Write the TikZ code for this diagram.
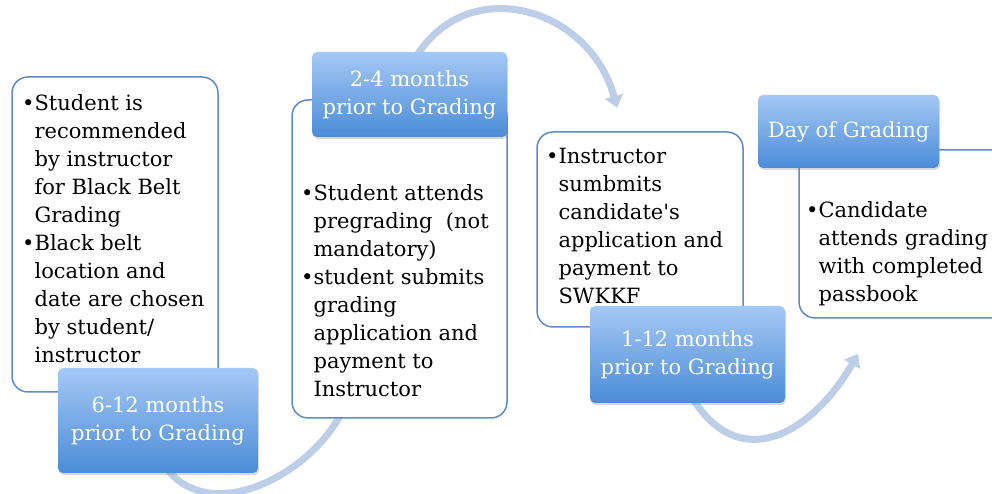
\documentclass[tikz,border=0pt]{standalone}
\usepackage{fontspec}
\setmainfont{DejaVu Serif}
\usetikzlibrary{arrows.meta,shadows}

\definecolor{boxline}{RGB}{95,140,200}
\definecolor{labtop}{RGB}{165,200,245}
\definecolor{labbot}{RGB}{75,140,215}
\definecolor{arcblue}{RGB}{188,206,232}

\newcommand{\bul}{\strut\textbullet}
\newcommand{\ind}{\hphantom{\textbullet}}

\begin{document}
\begin{tikzpicture}[x=1pt,y=1pt,
  stage/.style={draw=boxline, line width=1.5pt, fill=white, rounded corners=16pt},
  period/.style={rounded corners=5pt, top color=labtop, bottom color=labbot, text=white,
    align=center, font=\fontsize{21}{28}\selectfont,
    drop shadow={opacity=0.3, shadow xshift=1pt, shadow yshift=-2pt}},
  notes/.style={align=left, inner sep=0pt, anchor=north west, font=\fontsize{21}{28}\selectfont},
  flow/.style={arcblue, line width=7pt, -{Triangle[length=12pt,width=18pt]}}]
  \useasboundingbox (0,0) rectangle (992,494);
  \clip (0,0) rectangle (992,494);

  % arc ends
  \coordinate (a1s) at (160,35);
  \coordinate (a1e) at (348,95);
  \coordinate (a2s) at (412,430);
  \coordinate (a2e) at (617,386);
  \coordinate (a3s) at (690,100);
  \coordinate (a3e) at (858,140);

  \draw [flow] (a1s) to[out=-60, in=-115, looseness=1.1] (a1e);
  \draw [flow] (a2s) to[out=62, in=105, looseness=1.3] (a2e);
  \draw [flow] (a3s) to[out=-60, in=-120, looseness=1.4] (a3e);

  % white boxes
  \node (box1) [stage, minimum width=206pt, minimum height=315pt] at (115,259.5) {};
  \node (box2) [stage, minimum width=215pt, minimum height=318pt] at (399.5,235) {};
  \node (box3) [stage, minimum width=206pt, minimum height=195pt] at (640,264.5) {};
  \node (box4) [stage, minimum width=210pt, minimum height=168pt] at (904,260) {};

  \node (txt1) [notes] at (22,403.6) {\bul Student is\\ \ind recommended\\ \ind by instructor\\ \ind for Black Belt\\ \ind Grading\\
    \bul Black belt\\ \ind location and\\ \ind date are chosen\\ \ind by student/\\ \ind instructor};
  \node (txt2) [notes] at (301,313.6) {\bul Student attends\\ \ind pregrading\ \ (not\\ \ind mandatory)\\
    \bul student submits\\ \ind grading\\ \ind application and\\ \ind payment to\\ \ind Instructor};
  \node (txt3) [notes] at (546,350.6) {\bul Instructor\\ \ind sumbmits\\ \ind candidate\textquotesingle s\\ \ind application and\\ \ind payment to\\ \ind SWKKF};
  \node (txt4) [notes] at (806,296.6) {\bul Candidate\\ \ind attends grading\\ \ind with completed\\ \ind passbook};

  % time labels
  \node (lab1) [period, minimum width=200pt, minimum height=105pt] at (158,73.5) {6-12 months\\prior to Grading};
  \node (lab2) [period, minimum width=195pt, minimum height=85pt] at (409.5,399.5) {2-4 months\\prior to Grading};
  \node (lab3) [period, minimum width=195pt, minimum height=97pt] at (687.5,139.5) {1-12 months\\prior to Grading};
  \node (lab4) [period, minimum width=181pt, minimum height=73pt] at (848.5,362.5) {Day of Grading};
\end{tikzpicture}
\end{document}
